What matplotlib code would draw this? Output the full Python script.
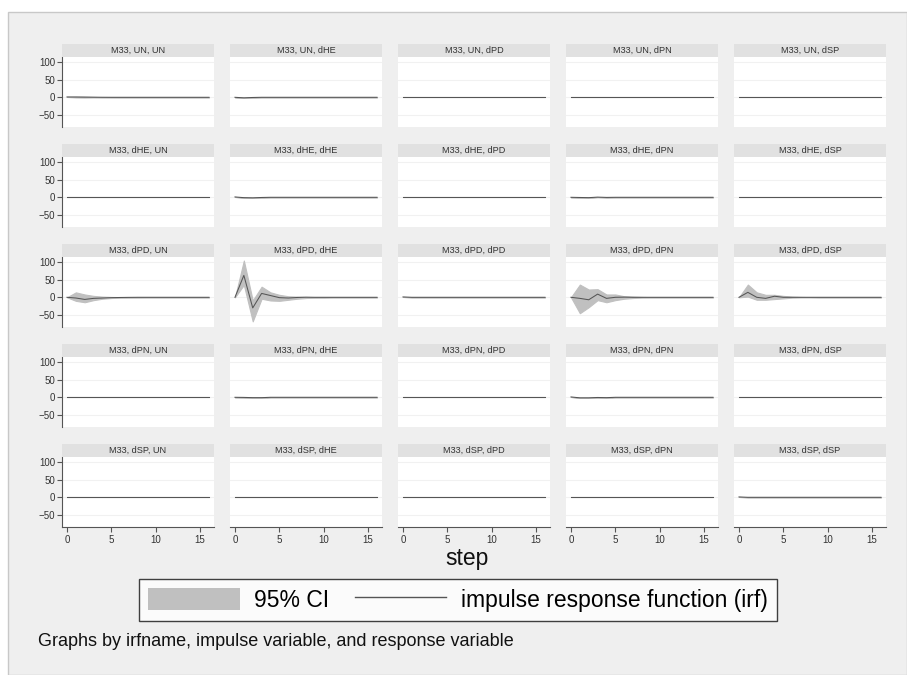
import matplotlib.pyplot as plt
from matplotlib.patches import Rectangle, Patch
from matplotlib.lines import Line2D

plt.rcParams['font.family'] = ['Liberation Sans', 'DejaVu Sans']

irfname = 'M33'
variables = ['UN', 'dHE', 'dPD', 'dPN', 'dSP']
steps = [0, 1, 2, 3, 4, 5, 6, 7, 8, 9, 10, 11, 12, 13, 14, 15, 16]
y_ticks = [-50, 0, 50, 100]
x_ticks = [0, 5, 10, 15]

# flat responses (simple irf: own shock = 1 at step 0)
zero_irf = [0, 0, 0, 0, 0, 0, 0, 0, 0, 0, 0, 0, 0, 0, 0, 0, 0]
own_irf = [1, 0, 0, 0, 0, 0, 0, 0, 0, 0, 0, 0, 0, 0, 0, 0, 0]

# small wiggles
un_un_irf = [1, 0.8, 0.5, 0.3, 0.1, 0, 0, 0, 0, 0, 0, 0, 0, 0, 0, 0, 0]
un_un_lo = [1, -0.5, -0.8, -0.5, -0.2, 0, 0, 0, 0, 0, 0, 0, 0, 0, 0, 0, 0]
un_un_hi = [1, 2, 1.8, 1, 0.4, 0.1, 0, 0, 0, 0, 0, 0, 0, 0, 0, 0, 0]
un_he_irf = [0, -1.5, -0.5, 0, 0, 0, 0, 0, 0, 0, 0, 0, 0, 0, 0, 0, 0]
he_he_irf = [1, -1, -1.5, -0.5, 0, 0, 0, 0, 0, 0, 0, 0, 0, 0, 0, 0, 0]
he_pn_irf = [0, -0.5, -1, 0.5, -0.3, 0, 0, 0, 0, 0, 0, 0, 0, 0, 0, 0, 0]
pn_he_irf = [0, -0.3, -1, -1, 0, 0, 0, 0, 0, 0, 0, 0, 0, 0, 0, 0, 0]
pn_pn_irf = [1, -1.5, -1.5, -0.5, -1, 0, 0, 0, 0, 0, 0, 0, 0, 0, 0, 0, 0]

# impulse dPD
pd_un_irf = [0, -2, -6, -3, -2, -1, -0.5, -0.2, 0, 0, 0, 0, 0, 0, 0, 0, 0]
pd_un_lo = [0, -10, -14, -8, -4, -2, -1, -0.5, -0.2, 0, 0, 0, 0, 0, 0, 0, 0]
pd_un_hi = [0, 14, 8, 4, 2, 1, 0.5, 0.2, 0, 0, 0, 0, 0, 0, 0, 0, 0]
pd_he_irf = [0, 62, -30, 11, 5, -1, -2, -0.5, 0.3, 0, 0, 0, 0, 0, 0, 0, 0]
pd_he_lo = [0, 35, -68, -4, -9, -10, -7, -4, -2, -1, -0.5, 0, 0, 0, 0, 0, 0]
pd_he_hi = [0, 104, -9, 30, 14, 7, 3, 2, 1, 0.5, 0, 0, 0, 0, 0, 0, 0]
pd_pn_irf = [0, -3, -7, 9, -3, 0, 0.5, 0, 0, 0, 0, 0, 0, 0, 0, 0, 0]
pd_pn_lo = [0, -45, -28, -8, -14, -8, -4, -2, -1, -0.5, 0, 0, 0, 0, 0, 0, 0]
pd_pn_hi = [0, 36, 22, 23, 8, 8, 3, 2, 1, 0.5, 0, 0, 0, 0, 0, 0, 0]
pd_sp_irf = [0, 14, 0, -3, 3, 0, 0, 0, 0, 0, 0, 0, 0, 0, 0, 0, 0]
pd_sp_lo = [0, 2, -7, -7, -5, -3, -1, -0.5, 0, 0, 0, 0, 0, 0, 0, 0, 0]
pd_sp_hi = [0, 36, 14, 7, 7, 4, 2, 1, 0.5, 0, 0, 0, 0, 0, 0, 0, 0]

# (impulse, response) -> (irf, lower, upper)
panels = {
    ('UN', 'UN'): (un_un_irf, un_un_lo, un_un_hi),
    ('UN', 'dHE'): (un_he_irf, un_he_irf, un_he_irf),
    ('dHE', 'dHE'): (he_he_irf, he_he_irf, he_he_irf),
    ('dHE', 'dPN'): (he_pn_irf, he_pn_irf, he_pn_irf),
    ('dPD', 'UN'): (pd_un_irf, pd_un_lo, pd_un_hi),
    ('dPD', 'dHE'): (pd_he_irf, pd_he_lo, pd_he_hi),
    ('dPD', 'dPD'): (own_irf, own_irf, own_irf),
    ('dPD', 'dPN'): (pd_pn_irf, pd_pn_lo, pd_pn_hi),
    ('dPD', 'dSP'): (pd_sp_irf, pd_sp_lo, pd_sp_hi),
    ('dPN', 'dHE'): (pn_he_irf, pn_he_irf, pn_he_irf),
    ('dPN', 'dPN'): (pn_pn_irf, pn_pn_irf, pn_pn_irf),
    ('dSP', 'dSP'): (own_irf, own_irf, own_irf),
}

W, H = 907, 675
fig = plt.figure(figsize=(W / 100, H / 100), dpi=100, facecolor='white')

# gray graph region with thin border top/left
fig.patches.append(Rectangle((8 / W, 0), 1 - 8 / W, 1 - 12 / H, transform=fig.transFigure,
                             facecolor='#efefef', edgecolor='#c8c8c8', linewidth=1, zorder=-10))

band_color = '#c0c0c0'
line_color = '#555555'

for r, imp in enumerate(variables):
    for c, resp in enumerate(variables):
        left = 62 + 168 * c
        strip_top = 44 + 100 * r
        plot_top = strip_top + 13
        plot_bot = plot_top + 70
        ax = fig.add_axes([left / W, 1 - plot_bot / H, 152 / W, 70 / H])
        ax.set_facecolor('white')

        # title strip
        fig.patches.append(Rectangle((left / W, 1 - plot_top / H), 152 / W, 13 / H,
                                     transform=fig.transFigure, facecolor='#e1e1e1',
                                     edgecolor='none', zorder=1))
        fig.text((left + 76) / W, 1 - (strip_top + 6.8) / H, f'{irfname}, {imp}, {resp}',
                 ha='center', va='center', fontsize=6.6, color='#333333')

        irf, lo, hi = panels.get((imp, resp), (zero_irf, zero_irf, zero_irf))
        ax.fill_between(steps, lo, hi, facecolor=band_color, edgecolor=band_color,
                        linewidth=0.8, zorder=2)
        ax.plot(steps, irf, color=line_color, linewidth=0.75, zorder=3)

        ax.set_xlim(-0.56, 16.56)
        ax.set_ylim(-84, 114)
        ax.set_yticks(y_ticks)
        ax.set_xticks(x_ticks)
        ax.grid(axis='y', color='#f1f1f1', linewidth=0.8)
        ax.set_axisbelow(True)
        for s in ['top', 'right']:
            ax.spines[s].set_visible(False)
        ax.spines['left'].set_color('#555555')
        ax.spines['bottom'].set_color('#555555')
        ax.spines['left'].set_visible(c == 0)
        ax.spines['bottom'].set_visible(r == 4)
        ax.tick_params(axis='y', length=3.5 if c == 0 else 0, labelleft=(c == 0),
                       labelsize=7, colors='#555555', labelcolor='#333333', pad=1.5)
        ax.tick_params(axis='x', length=3.5 if r == 4 else 0, labelbottom=(r == 4),
                       labelsize=7, colors='#555555', labelcolor='#333333', pad=2)

fig.text(467 / W, 1 - 558 / H, 'step', ha='center', va='center', fontsize=16.5, color='#111111')

handles = [Patch(facecolor=band_color, edgecolor='none', label='95% CI'),
           Line2D([], [], color=line_color, linewidth=1, label='impulse response function (irf)')]
leg = fig.legend(handles=handles, loc='center', bbox_to_anchor=(458 / W, 1 - 600 / H), ncol=2,
                 fontsize=16.5, frameon=True, fancybox=False, handlelength=4.0, handleheight=1.1,
                 handletextpad=0.65, columnspacing=1.1, borderpad=0.4, borderaxespad=0)
leg.get_frame().set_edgecolor('#111111')
leg.get_frame().set_linewidth(1)
leg.get_frame().set_facecolor('white')

fig.text(38 / W, 1 - 641 / H, 'Graphs by irfname, impulse variable, and response variable',
         ha='left', va='center', fontsize=13, color='#111111')

fig.savefig('out.png', dpi=100, facecolor=fig.get_facecolor())
